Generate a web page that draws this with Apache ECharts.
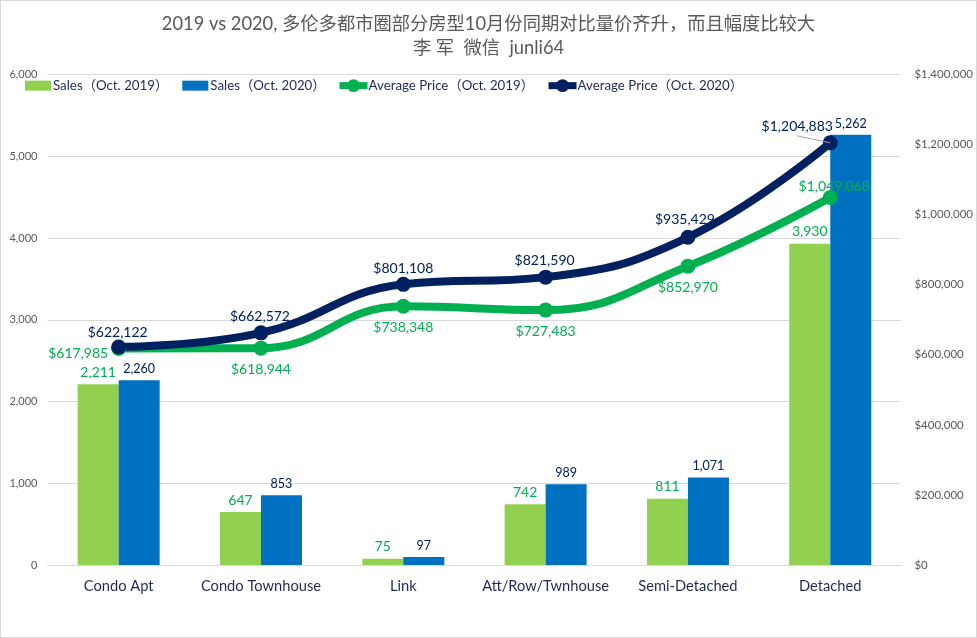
<!DOCTYPE html>
<html>
<head>
<meta charset="utf-8">
<script src="https://cdn.jsdelivr.net/npm/echarts@6/dist/echarts.min.js"></script>
<style>
  html, body { margin: 0; padding: 0; background: #fff; }
  #main { width: 975px; height: 636px; border: 1px solid #d9d9d9; }
</style>
</head>
<body>
<div id="main"></div>
<script>
const categories = ["Condo Apt", "Condo Townhouse", "Link", "Att/Row/Twnhouse", "Semi-Detached", "Detached"];
const sales2019 = [2211, 647, 75, 742, 811, 3930];
const sales2020 = [2260, 853, 97, 989, 1071, 5262];
const price2019 = [617985, 618944, 738348, 727483, 852970, 1049068];
const price2020 = [622122, 662572, 801108, 821590, 935429, 1204883];

const seriesNames = ["Sales（Oct. 2019）", "Sales（Oct. 2020）", "Average Price（Oct. 2019）", "Average Price（Oct. 2020）"];
const fontName = 'Lato, "Noto Sans CJK SC", sans-serif';
const green = "#00b050";
const navy = "#002060";

// where each price label sits relative to its point
const price2019Labels = [
  { position: "left", offset: [2, 5] },
  { position: "bottom", offset: [0, 2] },
  { position: "bottom", offset: [0, 2] },
  { position: "bottom", offset: [0, 2] },
  { position: "bottom", offset: [0, 2] },
  { position: "top", offset: [4, 9] }
];
const price2020Labels = [
  { position: "top", offset: [-1, 5] },
  { position: "top", offset: [-1, 3] },
  { position: "top", offset: [0, 4] },
  { position: "top", offset: [-1, 3] },
  { position: "top", offset: [-3, 2] },
  { position: "top", offset: [-33, 3] }
];

const money = v => "$" + v.toLocaleString("en-US");

function priceData(values, labels) {
  return values.map((v, i) => ({ value: v, label: labels[i] }));
}

function barSeries(name, values, color, labelColor, labelSize) {
  return {
    name: name,
    type: "bar",
    data: values,
    barWidth: 41,
    barGap: 0,
    itemStyle: { color: color },
    label: {
      show: true,
      position: "top",
      color: labelColor,
      fontFamily: fontName,
      fontSize: labelSize,
      formatter: p => p.value.toLocaleString("en-US")
    }
  };
}

function lineSeries(name, values, labels, color) {
  return {
    name: name,
    type: "line",
    yAxisIndex: 1,
    data: priceData(values, labels),
    smooth: 0.45,
    symbol: "circle",
    symbolSize: 15,
    lineStyle: { color: color, width: 8 },
    itemStyle: { color: color },
    z: 5,
    label: {
      show: true,
      color: color,
      fontFamily: fontName,
      fontSize: 14,
      formatter: p => money(p.value)
    }
  };
}

var chart = echarts.init(document.getElementById("main"));
chart.setOption({
  animation: false,
  textStyle: { fontFamily: fontName },
  title: {
    text: "2019 vs 2020, 多伦多都市圈部分房型10月份同期对比量价齐升，而且幅度比较大\n李 军  微信  junli64",
    left: "center",
    top: 6,
    textStyle: { color: "#595959", fontFamily: fontName, fontSize: 18.3, fontWeight: "normal", lineHeight: 24 }
  },
  legend: [
    {
      left: 19,
      top: 73,
      itemGap: 14,
      itemWidth: 26,
      itemHeight: 10,
      icon: "rect",
      textStyle: { color: "#1f2a5a", fontFamily: fontName, fontSize: 13.3, padding: [0, 0, 0, -3] },
      data: seriesNames.slice(0, 2)
    },
    {
      left: 330,
      top: 73,
      itemGap: 11,
      itemWidth: 28,
      itemHeight: 16,
      lineStyle: { width: 7 },
      textStyle: { color: "#1f2a5a", fontFamily: fontName, fontSize: 13.3, padding: [0, 0, 0, -4] },
      data: seriesNames.slice(2)
    }
  ],
  grid: { left: 46.5, right: 74, top: 73.5, bottom: 72 },
  xAxis: {
    type: "category",
    data: categories,
    axisTick: { show: false },
    axisLine: { lineStyle: { color: "#d9d9d9" } },
    axisLabel: { color: "#1f2a5a", fontSize: 14.7, margin: 14, interval: 0 }
  },
  yAxis: [
    {
      type: "value",
      min: 0,
      max: 6000,
      interval: 1000,
      axisLabel: { color: "#595959", fontSize: 11, margin: 10, formatter: v => v.toLocaleString("en-US") },
      splitLine: { lineStyle: { color: "#d9d9d9" } }
    },
    {
      type: "value",
      min: 0,
      max: 1400000,
      interval: 200000,
      axisLabel: { color: "#595959", fontSize: 11.5, margin: 13, formatter: money },
      splitLine: { show: false }
    }
  ],
  series: [
    barSeries(seriesNames[0], sales2019, "#92d050", green, 14),
    barSeries(seriesNames[1], sales2020, "#0070c0", navy, 12.5),
    lineSeries(seriesNames[2], price2019, price2019Labels, green),
    lineSeries(seriesNames[3], price2020, price2020Labels, navy)
  ]
});

// leader line from the last navy label back to its point
const last = chart.convertToPixel({ xAxisIndex: 0, yAxisIndex: 1 }, [5, price2020[5]]);
chart.setOption({
  graphic: [{
    type: "line",
    z: 100,
    shape: { x1: last[0] - 33, y1: last[1] - 7, x2: last[0], y2: last[1] },
    style: { stroke: "#a6a6a6", lineWidth: 1 }
  }]
});
</script>
</body>
</html>
